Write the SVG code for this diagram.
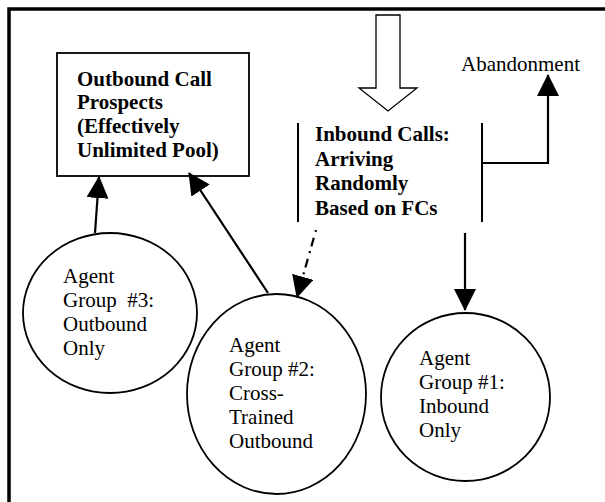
<svg xmlns="http://www.w3.org/2000/svg" width="605" height="502" viewBox="0 0 605 502">
<style>
text{font-family:"Liberation Serif","Times New Roman",serif;font-size:21px;fill:#000}
.b{font-weight:bold}
.shape{fill:#fff;stroke:#000;stroke-width:1.8}
.ln{fill:none;stroke:#000;stroke-width:2.2}
.br{fill:none;stroke:#000;stroke-width:2}
</style>
<defs>
<marker id="ah" viewBox="0 0 22 22" markerWidth="22" markerHeight="22" refX="21" refY="11" markerUnits="userSpaceOnUse" orient="auto">
<path d="M0,0 L22,11 L0,22 z" fill="#000"/>
</marker>
</defs>
<rect width="605" height="502" fill="#fff"/>
<rect x="9" y="9" width="700" height="600" fill="none" stroke="#000" stroke-width="3.5"/>

<g id="prospects">
<rect class="shape" x="57" y="53" width="192" height="123"/>
<text class="b" x="77" y="86">Outbound Call</text>
<text class="b" x="77" y="109">Prospects</text>
<text class="b" x="77" y="133">(Effectively</text>
<text class="b" x="77" y="157">Unlimited Pool)</text>
</g>

<g id="inbound">
<line class="br" x1="298" y1="123" x2="298" y2="222"/>
<line class="br" x1="482" y1="123" x2="482" y2="222"/>
<text class="b" x="315" y="141">Inbound Calls:</text>
<text class="b" x="315" y="166">Arriving</text>
<text class="b" x="315" y="190">Randomly</text>
<text class="b" x="315" y="215">Based on FCs</text>
</g>

<g id="abandonment">
<text x="461" y="71">Abandonment</text>
</g>

<g id="group3">
<ellipse class="shape" cx="110" cy="313" rx="87" ry="80"/>
<text x="63" y="283">Agent</text>
<text x="63" y="307" xml:space="preserve">Group  #3:</text>
<text x="63" y="331">Outbound</text>
<text x="63" y="355">Only</text>
</g>

<g id="group2">
<ellipse class="shape" cx="276.5" cy="394" rx="89.5" ry="100"/>
<text x="229" y="352">Agent</text>
<text x="229" y="376">Group #2:</text>
<text x="229" y="400">Cross-</text>
<text x="229" y="424">Trained</text>
<text x="229" y="448">Outbound</text>
</g>

<g id="group1">
<ellipse class="shape" cx="465.5" cy="397" rx="84.5" ry="84"/>
<text x="419" y="365">Agent</text>
<text x="419" y="389">Group #1:</text>
<text x="419" y="413">Inbound</text>
<text x="419" y="437">Only</text>
</g>

<g id="connectors">
<polygon points="376,15 400,15 400,88 417,88 388,111 359,88 376,88" fill="#fff" stroke="#000" stroke-width="1.3"/>
<line class="ln" x1="95" y1="233" x2="99" y2="177" marker-end="url(#ah)"/>
<line class="ln" x1="268" y1="293" x2="189" y2="173" marker-end="url(#ah)"/>
<line class="ln" x1="465" y1="233" x2="465" y2="310" marker-end="url(#ah)"/>
<line class="ln" x1="316" y1="230" x2="297" y2="297" stroke-dasharray="2,6,9,5" marker-end="url(#ah)"/>
<polyline class="ln" points="483,163 548,163 548,75" marker-end="url(#ah)"/>
</g>
</svg>
